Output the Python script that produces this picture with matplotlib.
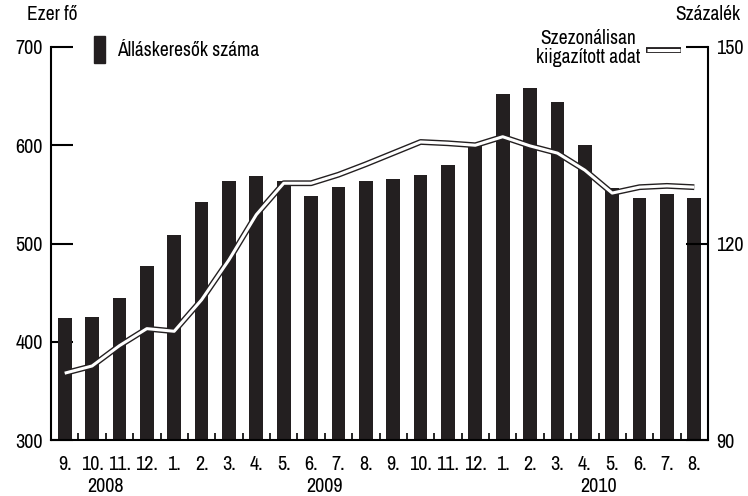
import matplotlib
matplotlib.use("Agg")
import matplotlib.pyplot as plt
import numpy as np
from matplotlib.patches import Rectangle

plt.rcParams['font.family'] = ['Archivo Narrow', 'DejaVu Sans']

months = ['9.', '10.', '11.', '12.', '1.', '2.', '3.', '4.', '5.', '6.', '7.', '8.',
          '9.', '10.', '11.', '12.', '1.', '2.', '3.', '4.', '5.', '6.', '7.', '8.']
years = ['2008', '2009', '2010']
year_pos = [1.5, 9.5, 19.5]
jobseekers = [424, 425, 445, 477, 509, 542, 564, 569, 564, 548, 557, 564,
              566, 570, 580, 599, 652, 658, 644, 600, 556, 546, 550, 546]
seasonal = [100.2, 101.3, 104.4, 107.0, 106.6, 111.4, 117.5, 124.4, 129.2, 129.2, 130.5, 132.1,
            133.8, 135.5, 135.3, 135.0, 136.3, 134.9, 133.8, 131.2, 127.7, 128.6, 128.8, 128.6]

FS = 14
TFS = 14.5
fig = plt.figure(figsize=(7.48, 4.96), dpi=100)
ax = fig.add_axes([51/748, 56/496, 657/748, 393/496])
x = np.arange(len(months))
ax.bar(x, jobseekers, width=0.5, color='#231f20', zorder=2)
ax.set_xlim(-0.5, len(months) - 0.5)
ax.set_ylim(300, 700)
ax.set_yticks([300, 400, 500, 600, 700])
ax.tick_params(axis='y', direction='in', length=16, width=1.5, labelsize=TFS, pad=6)
ax.set_xticks(x)
ax.set_xticklabels(months, fontsize=TFS)
ax.tick_params(axis='x', length=0, pad=11)
ax.set_xticks(np.arange(-0.5, len(months)), minor=True)
ax.tick_params(axis='x', which='minor', direction='in', length=5, width=1.2)
for sp in ['top', 'right']:
    ax.spines[sp].set_visible(False)
ax.spines['left'].set_linewidth(1.5)
ax.spines['bottom'].set_linewidth(1.5)

for yr, p in zip(years, year_pos):
    ax.text(p, -46/393, yr, transform=ax.get_xaxis_transform(), ha='center', va='center', fontsize=TFS)

ax2 = ax.twinx()
ax2.set_ylim(90, 150)
ax2.set_yticks([90, 120, 150])
ax2.tick_params(axis='y', direction='in', length=16, width=1.5, labelsize=TFS, pad=6)
for sp in ['top', 'left', 'bottom']:
    ax2.spines[sp].set_visible(False)
ax2.spines['right'].set_linewidth(1.5)
ax2.plot(x, seasonal, color='#231f20', lw=4.2, solid_capstyle='butt', zorder=3)
ax2.plot(x, seasonal, color='white', lw=2.2, solid_capstyle='butt', zorder=4)

fig.text(27/748, 1 - 15/496, 'Ezer fő', fontsize=FS, ha='left', va='center')
fig.text(740/748, 1 - 15/496, 'Százalék', fontsize=FS, ha='right', va='center')

fig.patches.append(Rectangle((94/748, 1 - 63/496), 11/748, 27/496, transform=fig.transFigure,
                             color='#231f20'))
fig.text(117/748, 1 - 50/496, 'Álláskeresők száma', fontsize=FS, ha='left', va='center')
fig.text(640/748, 1 - 48/496, 'Szezonálisan\nkiigazított adat', fontsize=FS, ha='right',
         va='center', multialignment='center', linespacing=1.05)
fig.lines.append(plt.Line2D([646/748, 681/748], [1 - 50/496, 1 - 50/496], transform=fig.transFigure,
                            color='#231f20', lw=4.2, solid_capstyle='butt'))
fig.lines.append(plt.Line2D([647/748, 680/748], [1 - 50/496, 1 - 50/496], transform=fig.transFigure,
                            color='white', lw=2.2, solid_capstyle='butt'))

fig.savefig('out.png', dpi=100)
